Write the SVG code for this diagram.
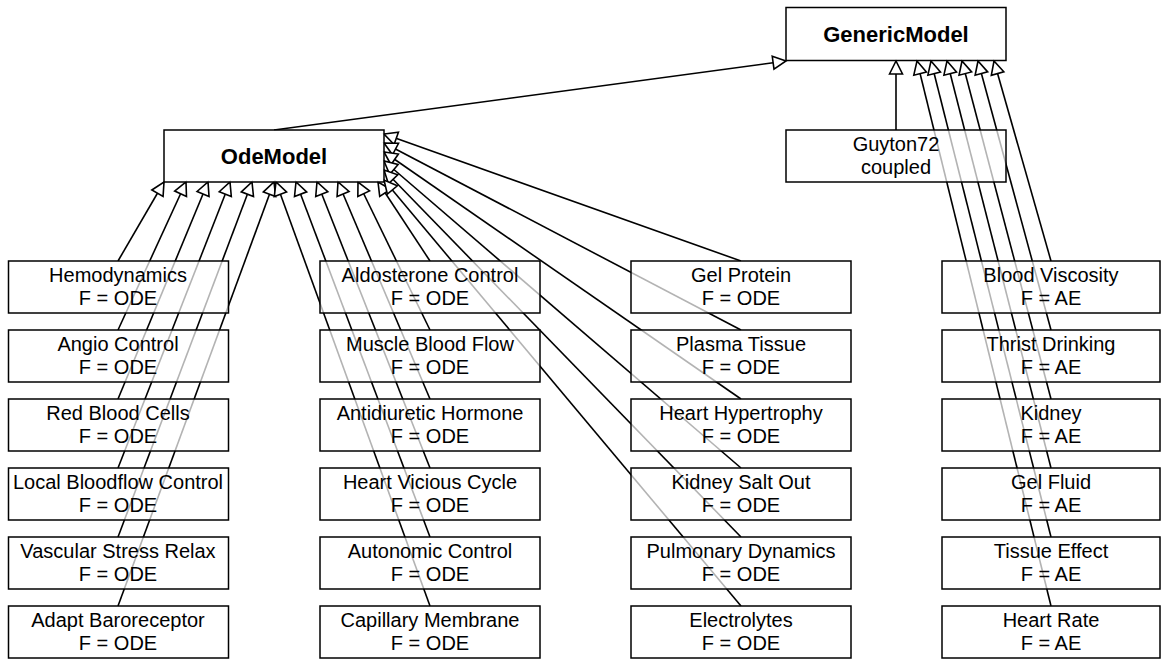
<svg xmlns="http://www.w3.org/2000/svg" width="1161" height="659" viewBox="0 0 1161 659">
  <style>
    .box { fill: #ffffff; fill-opacity: 0.7; stroke: #000000; stroke-width: 1.5; }
    .lbl { font-family: "Liberation Sans", Arial, sans-serif; font-size: 20px; fill: #000000; text-anchor: middle; }
    .title { font-family: "Liberation Sans", Arial, sans-serif; font-size: 22px; font-weight: bold; fill: #000000; text-anchor: middle; }
    .edge { stroke: #000000; stroke-width: 1.6; fill: none; marker-end: url(#inherit); }
  </style>
  <defs>
    <!-- hollow triangle: generalization arrowhead -->
    <marker id="inherit" markerUnits="userSpaceOnUse" viewBox="0 0 14 14" markerWidth="14" markerHeight="14" refX="13" refY="7" orient="auto" overflow="visible">
      <path d="M0,0.5 L13,7 L0,13.5 Z" fill="#ffffff" stroke="#000000" stroke-width="1.6" stroke-linejoin="miter"/>
    </marker>
  </defs>
  <rect width="1161" height="659" fill="#ffffff"/>

  <!-- inheritance edges (drawn beneath the nodes) -->
  <g id="connectors">
    <line class="edge" x1="274" y1="130" x2="786" y2="61"/>
    <line class="edge" x1="896" y1="130" x2="896" y2="61"/>
    <!-- ODE column 1 -->
    <line class="edge" x1="118" y1="261" x2="164" y2="182"/>
    <line class="edge" x1="118" y1="330" x2="186" y2="182"/>
    <line class="edge" x1="118" y1="399" x2="208" y2="182"/>
    <line class="edge" x1="118" y1="468" x2="230" y2="182"/>
    <line class="edge" x1="118" y1="537" x2="252" y2="182"/>
    <line class="edge" x1="118" y1="606" x2="274" y2="182"/>
    <!-- ODE column 2 -->
    <line class="edge" x1="430" y1="261" x2="378" y2="182"/>
    <line class="edge" x1="430" y1="330" x2="358" y2="182"/>
    <line class="edge" x1="430" y1="399" x2="338" y2="182"/>
    <line class="edge" x1="430" y1="468" x2="317" y2="182"/>
    <line class="edge" x1="430" y1="537" x2="296" y2="182"/>
    <line class="edge" x1="430" y1="606" x2="276" y2="182"/>
    <!-- ODE column 3 -->
    <line class="edge" x1="741" y1="261" x2="384" y2="134"/>
    <line class="edge" x1="741" y1="330" x2="384" y2="143"/>
    <line class="edge" x1="741" y1="399" x2="384" y2="152"/>
    <line class="edge" x1="741" y1="468" x2="384" y2="161"/>
    <line class="edge" x1="741" y1="537" x2="384" y2="170"/>
    <line class="edge" x1="741" y1="606" x2="384" y2="180"/>
    <!-- AE column -->
    <line class="edge" x1="1051" y1="261" x2="994" y2="61"/>
    <line class="edge" x1="1051" y1="330" x2="978" y2="61"/>
    <line class="edge" x1="1051" y1="399" x2="962" y2="61"/>
    <line class="edge" x1="1051" y1="468" x2="947" y2="61"/>
    <line class="edge" x1="1051" y1="537" x2="931" y2="61"/>
    <line class="edge" x1="1051" y1="606" x2="917" y2="61"/>
  </g>

  <!-- base classes -->
  <g id="GenericModel">
    <rect class="box" x="786" y="7.5" width="220" height="53"/>
    <text class="title" x="896" y="41.5">GenericModel</text>
  </g>
  <g id="OdeModel">
    <rect class="box" x="164" y="130" width="220" height="52"/>
    <text class="title" x="274" y="163.5">OdeModel</text>
  </g>
  <g id="Guyton72">
    <rect class="box" x="786" y="130" width="220" height="52"/>
    <text class="lbl" x="896" y="151">Guyton72</text>
    <text class="lbl" x="896" y="174">coupled</text>
  </g>

  <!-- ODE column 1 -->
  <g id="Hemodynamics">
    <rect class="box" x="8.5" y="261" width="220" height="52"/>
    <text class="lbl" x="118" y="282">Hemodynamics</text>
    <text class="lbl" x="118" y="305">F = ODE</text>
  </g>
  <g id="AngioControl">
    <rect class="box" x="8.5" y="330" width="220" height="52"/>
    <text class="lbl" x="118" y="351">Angio Control</text>
    <text class="lbl" x="118" y="374">F = ODE</text>
  </g>
  <g id="RedBloodCells">
    <rect class="box" x="8.5" y="399" width="220" height="52"/>
    <text class="lbl" x="118" y="420">Red Blood Cells</text>
    <text class="lbl" x="118" y="443">F = ODE</text>
  </g>
  <g id="LocalBloodflowControl">
    <rect class="box" x="8.5" y="468" width="220" height="52"/>
    <text class="lbl" x="118" y="489">Local Bloodflow Control</text>
    <text class="lbl" x="118" y="512">F = ODE</text>
  </g>
  <g id="VascularStressRelax">
    <rect class="box" x="8.5" y="537" width="220" height="52"/>
    <text class="lbl" x="118" y="558">Vascular Stress Relax</text>
    <text class="lbl" x="118" y="581">F = ODE</text>
  </g>
  <g id="AdaptBaroreceptor">
    <rect class="box" x="8.5" y="606" width="220" height="52"/>
    <text class="lbl" x="118" y="627">Adapt Baroreceptor</text>
    <text class="lbl" x="118" y="650">F = ODE</text>
  </g>

  <!-- ODE column 2 -->
  <g id="AldosteroneControl">
    <rect class="box" x="320" y="261" width="220" height="52"/>
    <text class="lbl" x="430" y="282">Aldosterone Control</text>
    <text class="lbl" x="430" y="305">F = ODE</text>
  </g>
  <g id="MuscleBloodFlow">
    <rect class="box" x="320" y="330" width="220" height="52"/>
    <text class="lbl" x="430" y="351">Muscle Blood Flow</text>
    <text class="lbl" x="430" y="374">F = ODE</text>
  </g>
  <g id="AntidiureticHormone">
    <rect class="box" x="320" y="399" width="220" height="52"/>
    <text class="lbl" x="430" y="420">Antidiuretic Hormone</text>
    <text class="lbl" x="430" y="443">F = ODE</text>
  </g>
  <g id="HeartViciousCycle">
    <rect class="box" x="320" y="468" width="220" height="52"/>
    <text class="lbl" x="430" y="489">Heart Vicious Cycle</text>
    <text class="lbl" x="430" y="512">F = ODE</text>
  </g>
  <g id="AutonomicControl">
    <rect class="box" x="320" y="537" width="220" height="52"/>
    <text class="lbl" x="430" y="558">Autonomic Control</text>
    <text class="lbl" x="430" y="581">F = ODE</text>
  </g>
  <g id="CapillaryMembrane">
    <rect class="box" x="320" y="606" width="220" height="52"/>
    <text class="lbl" x="430" y="627">Capillary Membrane</text>
    <text class="lbl" x="430" y="650">F = ODE</text>
  </g>

  <!-- ODE column 3 -->
  <g id="GelProtein">
    <rect class="box" x="631" y="261" width="220" height="52"/>
    <text class="lbl" x="741" y="282">Gel Protein</text>
    <text class="lbl" x="741" y="305">F = ODE</text>
  </g>
  <g id="PlasmaTissue">
    <rect class="box" x="631" y="330" width="220" height="52"/>
    <text class="lbl" x="741" y="351">Plasma Tissue</text>
    <text class="lbl" x="741" y="374">F = ODE</text>
  </g>
  <g id="HeartHypertrophy">
    <rect class="box" x="631" y="399" width="220" height="52"/>
    <text class="lbl" x="741" y="420">Heart Hypertrophy</text>
    <text class="lbl" x="741" y="443">F = ODE</text>
  </g>
  <g id="KidneySaltOut">
    <rect class="box" x="631" y="468" width="220" height="52"/>
    <text class="lbl" x="741" y="489">Kidney Salt Out</text>
    <text class="lbl" x="741" y="512">F = ODE</text>
  </g>
  <g id="PulmonaryDynamics">
    <rect class="box" x="631" y="537" width="220" height="52"/>
    <text class="lbl" x="741" y="558">Pulmonary Dynamics</text>
    <text class="lbl" x="741" y="581">F = ODE</text>
  </g>
  <g id="Electrolytes">
    <rect class="box" x="631" y="606" width="220" height="52"/>
    <text class="lbl" x="741" y="627">Electrolytes</text>
    <text class="lbl" x="741" y="650">F = ODE</text>
  </g>

  <!-- AE column -->
  <g id="BloodViscosity">
    <rect class="box" x="942" y="261" width="218" height="52"/>
    <text class="lbl" x="1051" y="282">Blood Viscosity</text>
    <text class="lbl" x="1051" y="305">F = AE</text>
  </g>
  <g id="ThristDrinking">
    <rect class="box" x="942" y="330" width="218" height="52"/>
    <text class="lbl" x="1051" y="351">Thrist Drinking</text>
    <text class="lbl" x="1051" y="374">F = AE</text>
  </g>
  <g id="Kidney">
    <rect class="box" x="942" y="399" width="218" height="52"/>
    <text class="lbl" x="1051" y="420">Kidney</text>
    <text class="lbl" x="1051" y="443">F = AE</text>
  </g>
  <g id="GelFluid">
    <rect class="box" x="942" y="468" width="218" height="52"/>
    <text class="lbl" x="1051" y="489">Gel Fluid</text>
    <text class="lbl" x="1051" y="512">F = AE</text>
  </g>
  <g id="TissueEffect">
    <rect class="box" x="942" y="537" width="218" height="52"/>
    <text class="lbl" x="1051" y="558">Tissue Effect</text>
    <text class="lbl" x="1051" y="581">F = AE</text>
  </g>
  <g id="HeartRate">
    <rect class="box" x="942" y="606" width="218" height="52"/>
    <text class="lbl" x="1051" y="627">Heart Rate</text>
    <text class="lbl" x="1051" y="650">F = AE</text>
  </g>
</svg>
